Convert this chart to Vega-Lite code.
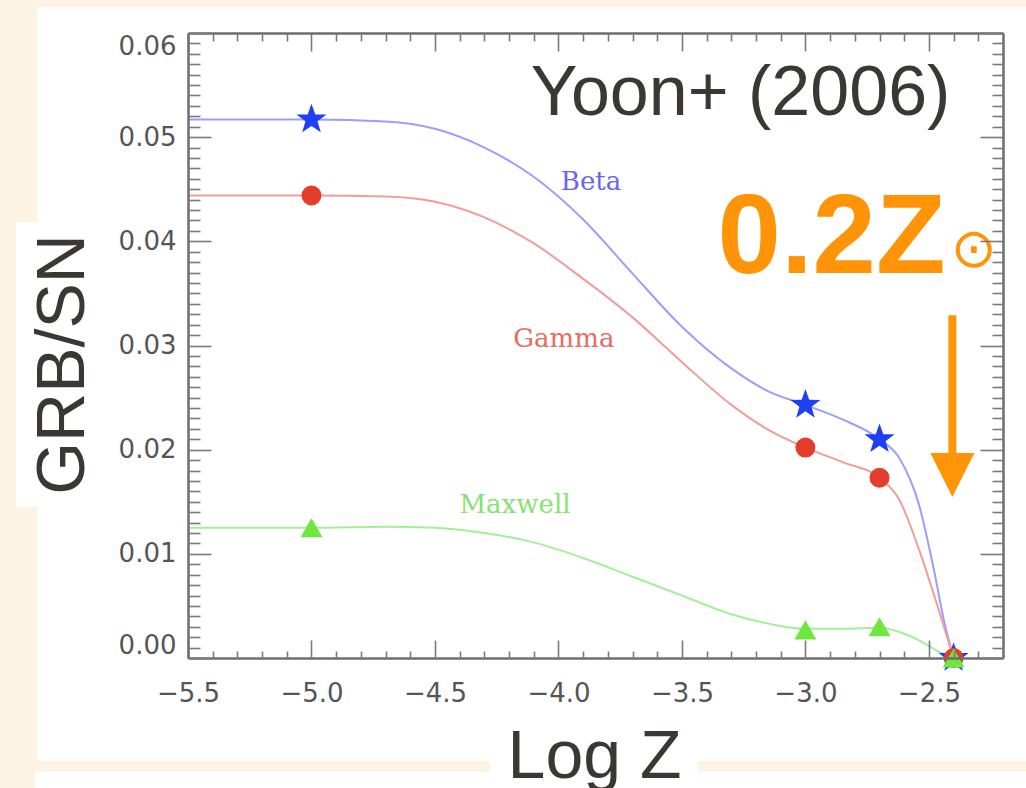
{
  "$schema": "https://vega.github.io/schema/vega-lite/v6.json",
  "width": 815,
  "height": 625,
  "autosize": {"type": "none"},
  "padding": {"left": 188, "top": 33, "right": 23, "bottom": 130},
  "background": "#fdf3e3",
  "config": {"view": {"stroke": null}, "axis": {"zindex": 1, "grid": false}},
  "datasets": {
    "curves": [
      {"model": "Beta", "logZ": -5.5, "ratio": 0.0517},
      {"model": "Beta", "logZ": -5.0, "ratio": 0.0517},
      {"model": "Beta", "logZ": -4.7, "ratio": 0.0515},
      {"model": "Beta", "logZ": -4.5, "ratio": 0.0508},
      {"model": "Beta", "logZ": -4.3, "ratio": 0.049},
      {"model": "Beta", "logZ": -4.1, "ratio": 0.0462},
      {"model": "Beta", "logZ": -3.9, "ratio": 0.0421},
      {"model": "Beta", "logZ": -3.7, "ratio": 0.0369},
      {"model": "Beta", "logZ": -3.5, "ratio": 0.0318},
      {"model": "Beta", "logZ": -3.3, "ratio": 0.0278},
      {"model": "Beta", "logZ": -3.15, "ratio": 0.0256},
      {"model": "Beta", "logZ": -3.0, "ratio": 0.0243},
      {"model": "Beta", "logZ": -2.85, "ratio": 0.0229},
      {"model": "Beta", "logZ": -2.7, "ratio": 0.021},
      {"model": "Beta", "logZ": -2.62, "ratio": 0.0192},
      {"model": "Beta", "logZ": -2.54, "ratio": 0.0147},
      {"model": "Beta", "logZ": -2.48, "ratio": 0.0085},
      {"model": "Beta", "logZ": -2.44, "ratio": 0.0037},
      {"model": "Beta", "logZ": -2.4, "ratio": 0.0},
      {"model": "Gamma", "logZ": -5.5, "ratio": 0.0444},
      {"model": "Gamma", "logZ": -5.0, "ratio": 0.0444},
      {"model": "Gamma", "logZ": -4.7, "ratio": 0.0443},
      {"model": "Gamma", "logZ": -4.5, "ratio": 0.0438},
      {"model": "Gamma", "logZ": -4.3, "ratio": 0.0423},
      {"model": "Gamma", "logZ": -4.1, "ratio": 0.0398},
      {"model": "Gamma", "logZ": -3.9, "ratio": 0.0364},
      {"model": "Gamma", "logZ": -3.7, "ratio": 0.0327},
      {"model": "Gamma", "logZ": -3.5, "ratio": 0.0284},
      {"model": "Gamma", "logZ": -3.3, "ratio": 0.0243},
      {"model": "Gamma", "logZ": -3.15, "ratio": 0.0219},
      {"model": "Gamma", "logZ": -3.0, "ratio": 0.0202},
      {"model": "Gamma", "logZ": -2.85, "ratio": 0.0188},
      {"model": "Gamma", "logZ": -2.7, "ratio": 0.0173},
      {"model": "Gamma", "logZ": -2.62, "ratio": 0.0152},
      {"model": "Gamma", "logZ": -2.54, "ratio": 0.0104},
      {"model": "Gamma", "logZ": -2.46, "ratio": 0.0046},
      {"model": "Gamma", "logZ": -2.4, "ratio": 0.0},
      {"model": "Maxwell", "logZ": -5.5, "ratio": 0.0125},
      {"model": "Maxwell", "logZ": -5.0, "ratio": 0.0125},
      {"model": "Maxwell", "logZ": -4.7, "ratio": 0.0126},
      {"model": "Maxwell", "logZ": -4.5, "ratio": 0.0125},
      {"model": "Maxwell", "logZ": -4.3, "ratio": 0.012},
      {"model": "Maxwell", "logZ": -4.1, "ratio": 0.0111},
      {"model": "Maxwell", "logZ": -3.9, "ratio": 0.0096},
      {"model": "Maxwell", "logZ": -3.7, "ratio": 0.0078},
      {"model": "Maxwell", "logZ": -3.5, "ratio": 0.006},
      {"model": "Maxwell", "logZ": -3.3, "ratio": 0.0042},
      {"model": "Maxwell", "logZ": -3.15, "ratio": 0.0033},
      {"model": "Maxwell", "logZ": -3.0, "ratio": 0.0028},
      {"model": "Maxwell", "logZ": -2.85, "ratio": 0.0028},
      {"model": "Maxwell", "logZ": -2.7, "ratio": 0.0029},
      {"model": "Maxwell", "logZ": -2.62, "ratio": 0.0025},
      {"model": "Maxwell", "logZ": -2.54, "ratio": 0.0017},
      {"model": "Maxwell", "logZ": -2.46, "ratio": 0.0006},
      {"model": "Maxwell", "logZ": -2.4, "ratio": 0.0}
    ],
    "points": [
      {"model": "Beta", "logZ": -5.0, "ratio": 0.0517},
      {"model": "Beta", "logZ": -3.0, "ratio": 0.0243},
      {"model": "Beta", "logZ": -2.7, "ratio": 0.021},
      {"model": "Beta", "logZ": -2.4, "ratio": 0.0},
      {"model": "Gamma", "logZ": -5.0, "ratio": 0.0444},
      {"model": "Gamma", "logZ": -3.0, "ratio": 0.0202},
      {"model": "Gamma", "logZ": -2.7, "ratio": 0.0173},
      {"model": "Gamma", "logZ": -2.4, "ratio": 0.0},
      {"model": "Maxwell", "logZ": -5.0, "ratio": 0.0125},
      {"model": "Maxwell", "logZ": -3.0, "ratio": 0.0027},
      {"model": "Maxwell", "logZ": -2.7, "ratio": 0.003},
      {"model": "Maxwell", "logZ": -2.4, "ratio": 0.0}
    ],
    "single": [{}]
  },
  "resolve": {"axis": {"x": "independent", "y": "independent"}},
  "layer": [
    {
      "data": {"name": "single"},
      "mark": {"type": "rect", "fill": "#ffffff"},
      "encoding": {
        "x": {"datum": -6.111, "type": "quantitative", "scale": {"domain": [-5.5, -2.2], "nice": false, "zero": false}, "axis": null},
        "x2": {"datum": -2.0},
        "y": {"datum": 0.0625, "type": "quantitative", "scale": {"domain": [0, 0.06], "nice": false, "zero": false}, "axis": null},
        "y2": {"datum": -0.0099}
      }
    },
    {
      "data": {"name": "single"},
      "mark": {"type": "rect", "fill": "#ffffff"},
      "encoding": {
        "x": {"datum": -6.12, "type": "quantitative", "scale": {"domain": [-5.5, -2.2], "nice": false, "zero": false}, "axis": null},
        "x2": {"datum": -2.0},
        "y": {"datum": -0.0109, "type": "quantitative", "scale": {"domain": [0, 0.06], "nice": false, "zero": false}, "axis": null},
        "y2": {"datum": -0.014}
      }
    },
    {
      "data": {"name": "single"},
      "mark": {"type": "rect", "fill": "#ffffff"},
      "encoding": {
        "x": {"datum": -6.196, "type": "quantitative", "scale": {"domain": [-5.5, -2.2], "nice": false, "zero": false}, "axis": null},
        "x2": {"datum": -6.1},
        "y": {"datum": 0.04185, "type": "quantitative", "scale": {"domain": [0, 0.06], "nice": false, "zero": false}, "axis": null},
        "y2": {"datum": 0.0145}
      }
    },
    {
      "data": {"name": "single"},
      "mark": {"type": "rect", "fill": "#ffffff"},
      "encoding": {
        "x": {"datum": -4.277, "type": "quantitative", "scale": {"domain": [-5.5, -2.2], "nice": false, "zero": false}, "axis": null},
        "x2": {"datum": -3.435},
        "y": {"datum": -0.0097, "type": "quantitative", "scale": {"domain": [0, 0.06], "nice": false, "zero": false}, "axis": null},
        "y2": {"datum": -0.0111}
      }
    },
    {
      "data": {"name": "curves"},
      "mark": {"type": "line", "interpolate": "monotone", "strokeWidth": 2},
      "encoding": {
        "x": {
          "field": "logZ", "type": "quantitative",
          "scale": {"domain": [-5.5, -2.2], "nice": false, "zero": false},
          "axis": {
            "orient": "bottom", "values": [-5.5, -5, -4.5, -4, -3.5, -3, -2.5], "format": ".1f",
            "ticks": false, "domain": true, "domainColor": "#6e6e6e", "domainWidth": 2.5,
            "labelFont": "DejaVu Sans", "labelFontSize": 26, "labelColor": "#555555",
            "labelPadding": 22, "labelFlush": false, "labelOverlap": false,
            "title": "Log Z", "titleFont": "Liberation Sans", "titleFontSize": 68, "titleFontWeight": "normal",
            "titleColor": "#3b3831", "titleX": 406, "titleY": 119, "titleBaseline": "alphabetic", "titleAlign": "center",
            "zindex": 1
          }
        },
        "y": {
          "field": "ratio", "type": "quantitative",
          "scale": {"domain": [0, 0.06], "nice": false, "zero": false},
          "axis": {
            "orient": "left", "values": [0, 0.01, 0.02, 0.03, 0.04, 0.05, 0.06], "format": ".2f",
            "ticks": false, "domain": true, "domainColor": "#6e6e6e", "domainWidth": 2.5,
            "labelFont": "DejaVu Sans", "labelFontSize": 26, "labelColor": "#555555",
            "labelPadding": 12, "labelFlush": true, "labelOverlap": false,
            "title": "GRB/SN", "titleFont": "Liberation Sans", "titleFontSize": 68, "titleFontWeight": "normal",
            "titleColor": "#3b3831", "titleX": -105, "titleY": 331, "titleAngle": 270, "titleBaseline": "alphabetic", "titleAlign": "center",
            "zindex": 1
          }
        },
        "color": {
          "field": "model", "type": "nominal",
          "scale": {"domain": ["Beta", "Gamma", "Maxwell"], "range": ["#9d9dff", "#f29c9c", "#a4f09a"]},
          "legend": null
        }
      }
    },
    {
      "data": {"name": "single"},
      "mark": {"type": "rule", "color": "#ff9408", "strokeWidth": 8},
      "encoding": {
        "x": {"datum": -2.405, "type": "quantitative", "scale": {"domain": [-5.5, -2.2], "nice": false, "zero": false}, "axis": null},
        "y": {"datum": 0.0329, "type": "quantitative", "scale": {"domain": [0, 0.06], "nice": false, "zero": false}, "axis": null},
        "y2": {"datum": 0.0192}
      }
    },
    {
      "data": {"name": "single"},
      "mark": {"type": "point", "shape": "M-1,-1L1,-1L0,1Z", "size": 1936, "filled": true, "color": "#ff9408", "opacity": 1, "strokeWidth": 0},
      "encoding": {
        "x": {"datum": -2.405, "type": "quantitative", "scale": {"domain": [-5.5, -2.2], "nice": false, "zero": false}, "axis": null},
        "y": {"datum": 0.01757, "type": "quantitative", "scale": {"domain": [0, 0.06], "nice": false, "zero": false}, "axis": null}
      }
    },
    {
      "data": {"name": "points"},
      "transform": [{"filter": "datum.model === 'Beta'"}],
      "mark": {"type": "point", "shape": "M0,-1L0.24,-0.32L0.95,-0.31L0.38,0.12L0.59,0.81L0,0.41L-0.59,0.81L-0.38,0.12L-0.95,-0.31L-0.24,-0.32Z", "size": 1000, "filled": true, "color": "#1f3ff5", "opacity": 1, "strokeWidth": 0},
      "encoding": {
        "x": {
          "field": "logZ", "type": "quantitative",
          "scale": {"domain": [-5.5, -2.2], "nice": false, "zero": false},
          "axis": {"orient": "bottom", "values": [-5.5, -5, -4.5, -4, -3.5, -3, -2.5], "labels": false, "domain": false, "ticks": true, "tickSize": -18, "tickColor": "#7a7a7a", "tickWidth": 1.6, "title": null, "zindex": 1}
        },
        "y": {
          "field": "ratio", "type": "quantitative",
          "scale": {"domain": [0, 0.06], "nice": false, "zero": false},
          "axis": {"orient": "left", "values": [0, 0.01, 0.02, 0.03, 0.04, 0.05, 0.06], "labels": false, "domain": false, "ticks": true, "tickSize": -23, "tickColor": "#7a7a7a", "tickWidth": 1.6, "title": null, "zindex": 1}
        }
      }
    },
    {
      "data": {"name": "points"},
      "transform": [{"filter": "datum.model === 'Gamma'"}],
      "mark": {"type": "point", "shape": "circle", "size": 400, "filled": true, "color": "#e43d2c", "opacity": 1, "strokeWidth": 0},
      "encoding": {
        "x": {
          "field": "logZ", "type": "quantitative",
          "scale": {"domain": [-5.5, -2.2], "nice": false, "zero": false},
          "axis": {"orient": "bottom", "values": [-5.4, -5.3, -5.2, -5.1, -4.9, -4.8, -4.7, -4.6, -4.4, -4.3, -4.2, -4.1, -3.9, -3.8, -3.7, -3.6, -3.4, -3.3, -3.2, -3.1, -2.9, -2.8, -2.7, -2.6, -2.4, -2.3], "labels": false, "domain": false, "ticks": true, "tickSize": -7, "tickColor": "#7a7a7a", "tickWidth": 1.6, "title": null, "zindex": 1}
        },
        "y": {
          "field": "ratio", "type": "quantitative",
          "scale": {"domain": [0, 0.06], "nice": false, "zero": false},
          "axis": {"orient": "left", "values": [0.001, 0.002, 0.003, 0.004, 0.005, 0.006, 0.007, 0.008, 0.009, 0.011, 0.012, 0.013, 0.014, 0.015, 0.016, 0.017, 0.018, 0.019, 0.021, 0.022, 0.023, 0.024, 0.025, 0.026, 0.027, 0.028, 0.029, 0.031, 0.032, 0.033, 0.034, 0.035, 0.036, 0.037, 0.038, 0.039, 0.041, 0.042, 0.043, 0.044, 0.045, 0.046, 0.047, 0.048, 0.049, 0.051, 0.052, 0.053, 0.054, 0.055, 0.056, 0.057, 0.058, 0.059], "labels": false, "domain": false, "ticks": true, "tickSize": -12, "tickColor": "#7a7a7a", "tickWidth": 1.6, "title": null, "zindex": 1}
        }
      }
    },
    {
      "data": {"name": "points"},
      "transform": [{"filter": "datum.model === 'Maxwell'"}],
      "mark": {"type": "point", "shape": "triangle-up", "size": 484, "filled": true, "color": "#6ee83c", "opacity": 1, "strokeWidth": 0},
      "encoding": {
        "x": {
          "field": "logZ", "type": "quantitative",
          "scale": {"domain": [-5.5, -2.2], "nice": false, "zero": false},
          "axis": {"orient": "top", "values": [-5.5, -5, -4.5, -4, -3.5, -3, -2.5], "labels": false, "domain": true, "domainColor": "#6e6e6e", "domainWidth": 2.5, "ticks": true, "tickSize": -18, "tickColor": "#7a7a7a", "tickWidth": 1.6, "title": null, "zindex": 1}
        },
        "y": {
          "field": "ratio", "type": "quantitative",
          "scale": {"domain": [0, 0.06], "nice": false, "zero": false},
          "axis": {"orient": "right", "values": [0, 0.01, 0.02, 0.03, 0.04, 0.05, 0.06], "labels": false, "domain": true, "domainColor": "#6e6e6e", "domainWidth": 2.5, "ticks": true, "tickSize": -23, "tickColor": "#7a7a7a", "tickWidth": 1.6, "title": null, "zindex": 1}
        }
      }
    },
    {
      "data": {"name": "single"},
      "mark": {"type": "text", "text": "Beta", "font": "DejaVu Serif", "fontSize": 26, "color": "#6666ee", "align": "center", "baseline": "middle"},
      "encoding": {
        "x": {
          "datum": -3.868, "type": "quantitative",
          "scale": {"domain": [-5.5, -2.2], "nice": false, "zero": false},
          "axis": {"orient": "top", "values": [-5.4, -5.3, -5.2, -5.1, -4.9, -4.8, -4.7, -4.6, -4.4, -4.3, -4.2, -4.1, -3.9, -3.8, -3.7, -3.6, -3.4, -3.3, -3.2, -3.1, -2.9, -2.8, -2.7, -2.6, -2.4, -2.3], "labels": false, "domain": false, "ticks": true, "tickSize": -8, "tickColor": "#7a7a7a", "tickWidth": 1.6, "title": null, "zindex": 1}
        },
        "y": {
          "datum": 0.0457, "type": "quantitative",
          "scale": {"domain": [0, 0.06], "nice": false, "zero": false},
          "axis": {"orient": "right", "values": [0.001, 0.002, 0.003, 0.004, 0.005, 0.006, 0.007, 0.008, 0.009, 0.011, 0.012, 0.013, 0.014, 0.015, 0.016, 0.017, 0.018, 0.019, 0.021, 0.022, 0.023, 0.024, 0.025, 0.026, 0.027, 0.028, 0.029, 0.031, 0.032, 0.033, 0.034, 0.035, 0.036, 0.037, 0.038, 0.039, 0.041, 0.042, 0.043, 0.044, 0.045, 0.046, 0.047, 0.048, 0.049, 0.051, 0.052, 0.053, 0.054, 0.055, 0.056, 0.057, 0.058, 0.059], "labels": false, "domain": false, "ticks": true, "tickSize": -11, "tickColor": "#7a7a7a", "tickWidth": 1.6, "title": null, "zindex": 1}
        }
      }
    },
    {
      "data": {"name": "single"},
      "mark": {"type": "text", "text": "Gamma", "font": "DejaVu Serif", "fontSize": 26, "color": "#e86b63", "align": "center", "baseline": "middle"},
      "encoding": {
        "x": {"datum": -3.978, "type": "quantitative", "scale": {"domain": [-5.5, -2.2], "nice": false, "zero": false}, "axis": null},
        "y": {"datum": 0.0306, "type": "quantitative", "scale": {"domain": [0, 0.06], "nice": false, "zero": false}, "axis": null}
      }
    },
    {
      "data": {"name": "single"},
      "mark": {"type": "text", "text": "Maxwell", "font": "DejaVu Serif", "fontSize": 26, "color": "#86e272", "align": "center", "baseline": "middle"},
      "encoding": {
        "x": {"datum": -4.176, "type": "quantitative", "scale": {"domain": [-5.5, -2.2], "nice": false, "zero": false}, "axis": null},
        "y": {"datum": 0.01469, "type": "quantitative", "scale": {"domain": [0, 0.06], "nice": false, "zero": false}, "axis": null}
      }
    },
    {
      "data": {"name": "single"},
      "mark": {"type": "text", "text": "Yoon+ (2006)", "font": "Liberation Sans", "fontSize": 70, "color": "#3b3831", "align": "right", "baseline": "alphabetic"},
      "encoding": {
        "x": {"datum": -2.413, "type": "quantitative", "scale": {"domain": [-5.5, -2.2], "nice": false, "zero": false}, "axis": null},
        "y": {"datum": 0.05213, "type": "quantitative", "scale": {"domain": [0, 0.06], "nice": false, "zero": false}, "axis": null}
      }
    },
    {
      "data": {"name": "single"},
      "mark": {"type": "text", "text": "0.2Z", "font": "Liberation Sans", "fontWeight": "bold", "fontSize": 114, "color": "#ff9408", "align": "left", "baseline": "alphabetic"},
      "encoding": {
        "x": {"datum": -3.356, "type": "quantitative", "scale": {"domain": [-5.5, -2.2], "nice": false, "zero": false}, "axis": null},
        "y": {"datum": 0.03696, "type": "quantitative", "scale": {"domain": [0, 0.06], "nice": false, "zero": false}, "axis": null}
      }
    },
    {
      "data": {"name": "single"},
      "mark": {"type": "text", "text": "⊙", "font": "DejaVu Sans", "fontSize": 55, "color": "#ff9408", "align": "center", "baseline": "middle"},
      "encoding": {
        "x": {"datum": -2.318, "type": "quantitative", "scale": {"domain": [-5.5, -2.2], "nice": false, "zero": false}, "axis": null},
        "y": {"datum": 0.03917, "type": "quantitative", "scale": {"domain": [0, 0.06], "nice": false, "zero": false}, "axis": null}
      }
    }
  ]
}
